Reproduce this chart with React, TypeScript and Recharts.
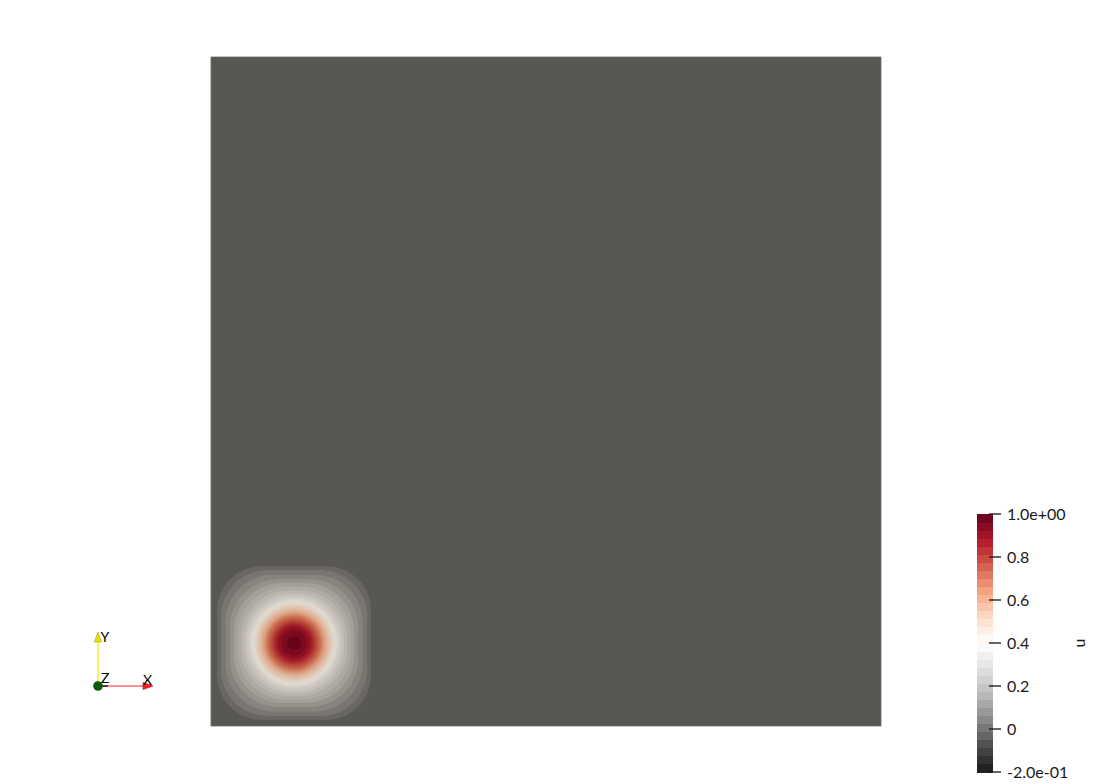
import React from 'react';
import {
  ComposedChart,
  XAxis,
  YAxis,
  ReferenceArea,
  ReferenceLine,
  ReferenceDot,
  Label,
} from 'recharts';

const FONT = 'Lato, "DejaVu Sans", sans-serif';

// ---- Colormap (diverging red / grey) control points ----
const cmapValues = [-0.2, -0.08, 0.04, 0.16, 0.28, 0.4, 0.52, 0.64, 0.76, 0.88, 1.0];
const cmapColors = ['#1a1a1a', '#4d4d4d', '#878787', '#bababa', '#e0e0e0', '#ffffff', '#fddbc7', '#f4a582', '#d6604d', '#b2182b', '#67001f'];

// ---- Colour bar ----
const colorbarMin = -0.2;
const colorbarMax = 1.0;
const bandCount = 32;
const colorbarTicks = [-0.2, 0, 0.2, 0.4, 0.6, 0.8, 1.0];
const colorbarTickLabels = ['-2.0e-01', '0', '0.2', '0.4', '0.6', '0.8', '1.0e+00'];
const colorbarTitle = 'u';

// ---- Field: flat background value and the hill's contour levels / extents ----
const backgroundLevel = -0.03;
const fieldCenterX = 0.124;
const fieldCenterY = 0.124;
const contourLevels = [
  -0.0125, 0.025, 0.0625, 0.1, 0.1375, 0.175, 0.2125, 0.25, 0.2875, 0.325, 0.3625, 0.4, 0.4375,
  0.475, 0.5125, 0.55, 0.5875, 0.625, 0.6625, 0.7, 0.7375, 0.775, 0.8125, 0.85, 0.8875, 0.925, 0.9625,
];
const contourRadii = [
  0.1149, 0.109, 0.1022, 0.0955, 0.0896, 0.0843, 0.0791, 0.0746, 0.0709, 0.0672, 0.0642, 0.0612, 0.0582,
  0.0552, 0.0522, 0.0493, 0.0463, 0.044, 0.0418, 0.0396, 0.0366, 0.0336, 0.0306, 0.0276, 0.0239, 0.0187, 0.0104,
];

// ---- Orientation triad ----
const triadOrigin = { x: 0.28, y: 0.24 };
const triadXTip = { x: 0.83, y: 0.24 };
const triadYTip = { x: 0.28, y: 0.78 };
const triadZEnd = { x: 0.38, y: 0.24 };

// ---- colour helpers ----
const LIGHT = [0.885, 0.865, 0.83];
function hexToRgb(h: string): number[] {
  return [parseInt(h.slice(1, 3), 16), parseInt(h.slice(3, 5), 16), parseInt(h.slice(5, 7), 16)];
}
function colormap(v: number): number[] {
  const c = Math.max(cmapValues[0], Math.min(cmapValues[cmapValues.length - 1], v));
  for (let i = 0; i < cmapValues.length - 1; i++) {
    if (c <= cmapValues[i + 1]) {
      const t = (c - cmapValues[i]) / (cmapValues[i + 1] - cmapValues[i]);
      const a = hexToRgb(cmapColors[i]);
      const b = hexToRgb(cmapColors[i + 1]);
      return a.map((ai, k) => ai + (b[k] - ai) * t);
    }
  }
  return hexToRgb(cmapColors[cmapColors.length - 1]);
}
const bandWidth = (colorbarMax - colorbarMin) / bandCount;
function bandIndex(v: number): number {
  return Math.min(bandCount - 1, Math.max(0, Math.floor((v - colorbarMin) / bandWidth + 1e-6)));
}
function bandColor(i: number, lit: boolean): string {
  const rgb = colormap(colorbarMin + (i + 0.5) * bandWidth);
  const out = rgb.map((c, k) => Math.round(Math.min(255, lit ? c * LIGHT[k] : c)));
  return `rgb(${out[0]},${out[1]},${out[2]})`;
}

const bands = Array.from({ length: bandCount }, (_, i) => ({
  y1: colorbarMin + i * bandWidth,
  y2: colorbarMin + (i + 1) * bandWidth,
  color: bandColor(i, false),
}));

const contours = contourLevels.map((lvl, i) => {
  const r = contourRadii[i];
  const t = Math.max(0, Math.min(1, (r - 0.067) / 0.048));
  return {
    x1: fieldCenterX - r,
    x2: fieldCenterX + r,
    y1: fieldCenterY - r,
    y2: fieldCenterY + r,
    color: bandColor(bandIndex(lvl), true),
    roundness: 1 - 0.42 * t,
  };
});

const makeRoundShape = (color: string, roundness: number) => (props: any) => {
  const { x, y, width, height } = props;
  return (
    <rect
      x={x}
      y={y}
      width={width}
      height={height}
      rx={(width / 2) * roundness}
      ry={(height / 2) * roundness}
      fill={color}
      stroke="none"
    />
  );
};

const makeBandShape = (color: string) => (props: any) => {
  const { x, y, width, height } = props;
  return <rect x={x} y={y} width={width} height={height + 0.5} fill={color} stroke="none" shapeRendering="crispEdges" />;
};

const DomainShape = (props: any) => {
  const { x, y, width, height } = props;
  return (
    <rect x={x} y={y} width={width} height={height} fill={bandColor(bandIndex(backgroundLevel), true)} stroke="#6e6c67" strokeWidth={0.8} />
  );
};

const ColorbarTick = (props: any) => {
  const { x, y, index } = props;
  return (
    <g>
      <line x1={x - 4} x2={x + 8} y1={y} y2={y} stroke="#111" strokeWidth={1.3} />
      <text x={x + 14} y={y} dy="0.36em" fontFamily={FONT} fontSize={16} fill="#1a1a1a" textAnchor="start">
        {colorbarTickLabels[index]}
      </text>
    </g>
  );
};

const TitleContent = (props: any) => {
  const vb = props.viewBox || { x: 33, y: 14, width: 100, height: 258 };
  const tx = vb.x + 86;
  const ty = vb.y + vb.height / 2;
  return (
    <text x={tx} y={ty} dy="0.36em" transform={`rotate(-90 ${tx} ${ty})`} textAnchor="middle" fontFamily={FONT} fontSize={16} fill="#1a1a1a">
      {colorbarTitle}
    </text>
  );
};

const XArrow = (props: any) => {
  const { cx, cy } = props;
  return (
    <g>
      <polygon points={`${cx},${cy} ${cx - 10},${cy - 3.5} ${cx - 10},${cy + 3.5}`} fill="#ff1a1a" stroke="#a00" strokeWidth={0.5} />
      <text x={cx - 5.5} y={cy - 1} textAnchor="middle" fontFamily={FONT} fontSize={14} fill="#000">X</text>
    </g>
  );
};

const YArrow = (props: any) => {
  const { cx, cy } = props;
  return (
    <g>
      <polygon points={`${cx},${cy} ${cx - 3.5},${cy + 10} ${cx + 3.5},${cy + 10}`} fill="#e6e600" stroke="#8a8a00" strokeWidth={0.5} />
      <text x={cx + 2.5} y={cy + 10} textAnchor="start" fontFamily={FONT} fontSize={14} fill="#000">Y</text>
    </g>
  );
};

const OriginDot = (props: any) => {
  const { cx, cy } = props;
  return (
    <g>
      <circle cx={cx} cy={cy} r={4.8} fill="#0a5a0a" />
      <text x={cx + 3} y={cy - 3} textAnchor="start" fontFamily={FONT} fontSize={14} fill="#000">Z</text>
    </g>
  );
};

export default function App() {
  return (
    <div style={{ position: 'absolute', left: 0, top: 0, width: 1093, height: 784, background: '#fff', overflow: 'hidden' }}>
      {/* Main field view */}
      <div style={{ position: 'absolute', left: 0, top: 0 }}>
        <ComposedChart width={1093} height={784} margin={{ top: 57, right: 212, bottom: 58, left: 211 }}>
          <XAxis type="number" dataKey="x" domain={[0, 1]} hide allowDataOverflow />
          <YAxis type="number" dataKey="y" domain={[0, 1]} hide allowDataOverflow />
          <ReferenceArea x1={0} x2={1} y1={0} y2={1} shape={DomainShape} fillOpacity={1} />
          {contours.map((c, i) => (
            <ReferenceArea
              key={i}
              x1={c.x1}
              x2={c.x2}
              y1={c.y1}
              y2={c.y2}
              fillOpacity={1}
              shape={makeRoundShape(c.color, c.roundness)}
            />
          ))}
        </ComposedChart>
      </div>

      {/* Colour bar */}
      <div style={{ position: 'absolute', left: 960, top: 500 }}>
        <ComposedChart width={140} height={284} margin={{ top: 14, right: 7, bottom: 12, left: 17 }}>
          <XAxis type="number" dataKey="x" domain={[0, 1]} hide allowDataOverflow />
          <YAxis
            type="number"
            dataKey="y"
            orientation="right"
            domain={[colorbarMin, colorbarMax]}
            ticks={colorbarTicks}
            interval={0}
            width={100}
            tickSize={0}
            tickMargin={0}
            tickLine={false}
            axisLine={false}
            tick={ColorbarTick}
            allowDataOverflow
          >
            <Label content={TitleContent} />
          </YAxis>
          {bands.map((b, i) => (
            <ReferenceArea key={i} x1={0} x2={1} y1={b.y1} y2={b.y2} fillOpacity={1} shape={makeBandShape(b.color)} />
          ))}
        </ComposedChart>
      </div>

      {/* Orientation triad */}
      <div style={{ position: 'absolute', left: 70, top: 610 }}>
        <ComposedChart width={100} height={100} margin={{ top: 0, right: 0, bottom: 0, left: 0 }}>
          <XAxis type="number" dataKey="x" domain={[0, 1]} hide allowDataOverflow />
          <YAxis type="number" dataKey="y" domain={[0, 1]} hide allowDataOverflow />
          <ReferenceLine segment={[triadOrigin, { x: triadXTip.x - 0.09, y: triadXTip.y }]} stroke="#ff2020" strokeWidth={1.2} />
          <ReferenceLine segment={[triadOrigin, { x: triadYTip.x, y: triadYTip.y - 0.09 }]} stroke="#eeee00" strokeWidth={1.2} />
          <ReferenceLine segment={[triadOrigin, triadZEnd]} stroke="#111" strokeWidth={1.4} />
          <ReferenceDot x={triadXTip.x} y={triadXTip.y} shape={XArrow} />
          <ReferenceDot x={triadYTip.x} y={triadYTip.y} shape={YArrow} />
          <ReferenceDot x={triadOrigin.x} y={triadOrigin.y} shape={OriginDot} />
        </ComposedChart>
      </div>
    </div>
  );
}
